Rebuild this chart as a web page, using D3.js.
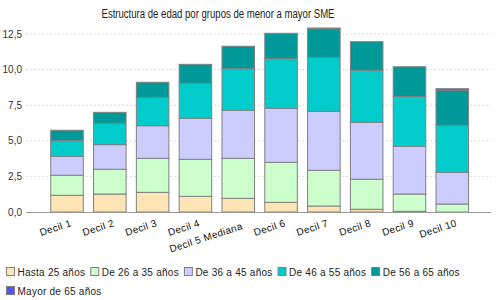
<!DOCTYPE html>
<html><head><meta charset="utf-8">
<script src="https://cdn.jsdelivr.net/npm/d3@7"></script>
<style>body{margin:0;background:#fff}svg{display:block}text{font-family:Arial,"Liberation Sans",sans-serif}</style>
</head><body><svg id="c" width="500" height="300"></svg>
<script>
const categories = ["Decil 1","Decil 2","Decil 3","Decil 4","Decil 5 Mediana","Decil 6","Decil 7","Decil 8","Decil 9","Decil 10"];
const seriesNames = ["Hasta 25 años","De 26 a 35 años","De 36 a 45 años","De 46 a 55 años","De 56 a 65 años","Mayor de 65 años"];
const hasta25  = [1.17, 1.26, 1.38, 1.10, 0.96, 0.68, 0.42, 0.19, 0.05, 0.00];
const de26a35  = [1.41, 1.74, 2.39, 2.60, 2.81, 2.81, 2.51, 2.11, 1.21, 0.56];
const de36a45  = [1.33, 1.73, 2.29, 2.88, 3.37, 3.79, 4.14, 4.00, 3.35, 2.23];
const de46a55  = [1.10, 1.50, 1.99, 2.46, 2.92, 3.49, 3.79, 3.65, 3.51, 3.30];
const de56a65  = [0.73, 0.77, 1.06, 1.33, 1.58, 1.78, 2.01, 2.01, 2.08, 2.46];
const mayor65  = [0.00, 0.00, 0.00, 0.00, 0.00, 0.00, 0.05, 0.00, 0.00, 0.11];
const yTicks = [0, 2.5, 5, 7.5, 10, 12.5];
const title = "Estructura de edad por grupos de menor a mayor SME";

const colors = ["#FFE4B5","#CCFFCC","#CCCCFF","#00CCCC","#009999","#5555FF"];
const seriesValues = [hasta25, de26a35, de36a45, de46a55, de56a65, mayor65];

const svg = d3.select("#c");
const table = categories.map((c,i)=>{const o={cat:c}; seriesNames.forEach((s,j)=>o[s]=seriesValues[j][i]); return o;});
const stacked = d3.stack().keys(seriesNames)(table);

const plotL = 26, plotR = 491, plotB = 212;
const y = d3.scaleLinear().domain([0, 13.4]).range([plotB, plotB - 13.4*14.24]);
const x = d3.scaleBand().domain(categories).range([45.6, 473.7]).paddingInner(0.24).paddingOuter(0.12);

svg.append("text").attr("x",218).attr("y",17.5).attr("text-anchor","middle")
  .attr("font-size",12).attr("fill","#222")
  .attr("textLength",233).attr("lengthAdjust","spacingAndGlyphs").text(title);

// grid
svg.append("g").selectAll("line").data(yTicks.filter(t=>t>0)).join("line")
  .attr("x1",plotL).attr("x2",plotR).attr("y1",d=>y(d)).attr("y2",d=>y(d))
  .attr("stroke","#d8d8d8").attr("stroke-dasharray","2,2").attr("stroke-width",1);

// y labels
const fmt = d => d3.format(".1f")(d).replace(".",",");
svg.append("g").selectAll("text").data(yTicks).join("text")
  .attr("x",22).attr("y",d=>y(d)+3.5).attr("text-anchor","end")
  .attr("font-size",10).attr("fill","#333").text(fmt);

// bars
svg.append("g").selectAll("g").data(stacked).join("g")
  .attr("fill",(d,i)=>colors[i])
  .selectAll("rect").data(d=>d).join("rect")
  .attr("x",d=>x(d.data.cat)).attr("width",x.bandwidth())
  .attr("y",d=>y(d[1])).attr("height",d=>y(d[0])-y(d[1]))
  .attr("stroke","#808080").attr("stroke-width",1);

// baseline
svg.append("line").attr("x1",plotL).attr("x2",plotR).attr("y1",plotB+0.5).attr("y2",plotB+0.5)
  .attr("stroke","#999").attr("stroke-width",1);

// x labels
svg.append("g").selectAll("text").data(categories).join("text")
  .attr("transform",(d,i)=>`translate(${x(d)+x.bandwidth()/2+5},${i===4?229:226}) rotate(-18)`)
  .attr("text-anchor","end").attr("font-size",10).attr("letter-spacing",0.3).attr("fill","#111").text(d=>d);

// legend
const lg = svg.append("g");
let lx = 6, ly = 267;
seriesNames.forEach((s,i)=>{
  const t = lg.append("text").attr("font-size",10).attr("letter-spacing",0.25).attr("fill","#222").text(s);
  const w = t.node().getComputedTextLength();
  if (lx + 11.5 + w > 495) { lx = 6; ly += 19; }
  lg.append("rect").attr("x",lx+0.5).attr("y",ly+0.5).attr("width",8).attr("height",8)
    .attr("fill",colors[i]).attr("stroke","#808080");
  t.attr("x",lx+11.5).attr("y",ly+8.5);
  lx += 11.5 + w + 5;
});
</script></body></html>
